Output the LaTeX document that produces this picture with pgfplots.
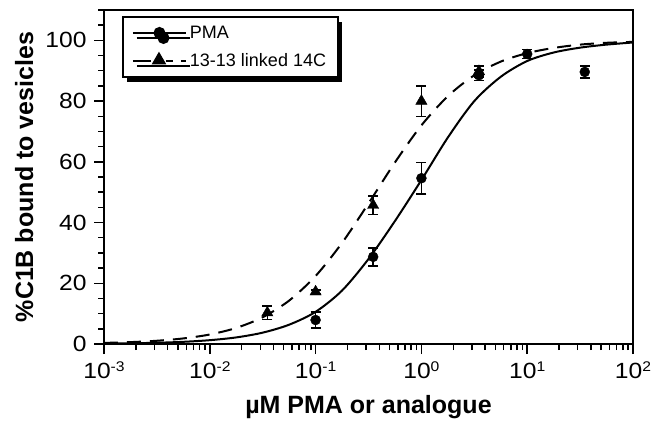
\documentclass[border=0pt]{standalone}
\usepackage{pgfplots}
\pgfplotsset{compat=1.18}
\usepackage{pgfplotstable}
\usepackage{fontspec}
\setmainfont{Liberation Sans}
\newfontfamily\tickfont{Liberation Sans}[FakeStretch=1.12]
\usetikzlibrary{shadows}

% measured points with error bars
\pgfplotstableread{
x     y     e
0.1   7.9   2.7
0.35  28.7  3.0
1     54.6  5.2
3.5   88.5  1.8
10    95.5  1.5
35    89.6  2.0
}\pmadata

\pgfplotstableread{
x     y     e
0.035 10.3  2.2
0.1   17.2  0.6
0.35  45.7  3.1
1     80.0  5.0
3.5   89.8  1.8
}\analogdata

\newcommand{\expo}[1]{\raisebox{7.5pt}{\fontsize{14}{14}\selectfont #1}}

\begin{document}
\begin{tikzpicture}
\path[use as bounding box] (-104pt,-77pt) rectangle (556pt,344pt);
\begin{axis}[
  at={(0pt,0pt)}, anchor=south west,
  scale only axis, width=529pt, height=334pt,
  xmode=log, xmin=1e-3, xmax=1e2,
  ymin=0, ymax=110,
  axis line style={line width=2pt},
  tick pos=left, tick align=outside,
  major tick length=10pt, minor tick length=6pt,
  every tick/.style={black, line width=1.5pt},
  xtick={1e-3,1e-2,1e-1,1,10,100},
  xticklabels={10\expo{-3},10\expo{-2},10\expo{-1},10\expo{0},10\expo{1},10\expo{2}},
  ytick={0,20,40,60,80,100},
  yticklabels={0,20,40,60,80,100},
  minor ytick={5,10,...,110},
  ticklabel style={font=\tickfont\fontsize{22}{26}\selectfont},
  xticklabel style={anchor=north, yshift=-4pt},
  yticklabel style={anchor=east, xshift=-4pt},
  xlabel={\fontsize{25}{30}\selectfont\bfseries µM PMA or analogue},
  xlabel style={at={(axis description cs:0.5,-0.2066)}, anchor=base},
  ylabel={\fontsize{25}{30}\selectfont\bfseries \%C1B bound to vesicles},
  ylabel style={at={(axis description cs:-0.1342,0.5)}, anchor=base, rotate=0},
  legend style={at={(axis description cs:0.034,0.982)}, anchor=north west,
    draw=black, line width=2pt, fill=white,
    font=\fontsize{18}{21}\selectfont,
    drop shadow={shadow xshift=4pt, shadow yshift=-5pt, fill=black, opacity=1},
    inner xsep=9pt, inner ysep=7pt, row sep=10pt,
    nodes={inner xsep=3pt, inner ysep=2pt}},
  legend cell align=left,
]

% fitted binding curves
\addplot[black, line width=2pt, smooth, forget plot] coordinates {
  (0.001,0.14) (0.001778,0.24) (0.003162,0.41) (0.005623,0.72) (0.01,1.26)
  (0.01778,2.17) (0.03162,3.74) (0.05623,6.36) (0.1,10.6) (0.1778,17.6)
  (0.3162,28.0) (0.5623,40.5) (1,54.0) (1.778,68.0) (3.162,80.0)
  (5.623,88.0) (10,93.2) (17.78,96.0) (31.62,97.6) (56.23,98.6) (100,99.3)
};
\addplot[black, line width=2pt, smooth, dash pattern=on 14pt off 9pt, forget plot] coordinates {
  (0.001,0.36) (0.001778,0.62) (0.003162,1.07) (0.005623,1.84) (0.01,3.13)
  (0.01778,5.30) (0.03162,8.81) (0.05623,14.3) (0.1,22.4) (0.1778,33.3)
  (0.3162,46.3) (0.5623,59.8) (1,72.0) (1.778,81.6) (3.162,88.5)
  (5.623,93.0) (10,95.8) (17.78,97.5) (31.62,98.6) (56.23,99.2) (100,99.5)
};

\addplot[black, only marks, mark=*, mark size=5pt,
  error bars/.cd, y dir=both, y explicit,
  error bar style={line width=1.5pt},
  error mark options={rotate=90, mark size=5pt, line width=1.5pt},
  /pgfplots/legend image code/.code={
    \draw[black, line width=2pt] (0pt,0pt) -- (53pt,0pt);
    \fill[black] (26.5pt,0pt) circle (5pt);}
] table[x=x, y=y, y error=e] {\pmadata};
\addlegendentry{PMA}

\addplot[black, only marks, mark=triangle*, mark size=6.5pt,
  error bars/.cd, y dir=both, y explicit,
  error bar style={line width=1.5pt},
  error mark options={rotate=90, mark size=5pt, line width=1.5pt},
  /pgfplots/legend image code/.code={
    \draw[black, line width=2pt, dash pattern=on 18pt off 15pt on 7pt off 8pt on 5pt] (0pt,0pt) -- (53pt,0pt);
    \draw[black] plot[mark=triangle*, mark size=6.5pt] coordinates {(26pt,1pt)};}
] table[x=x, y=y, y error=e] {\analogdata};
\addlegendentry{13-13 linked 14C}

\end{axis}
\end{tikzpicture}
\end{document}
